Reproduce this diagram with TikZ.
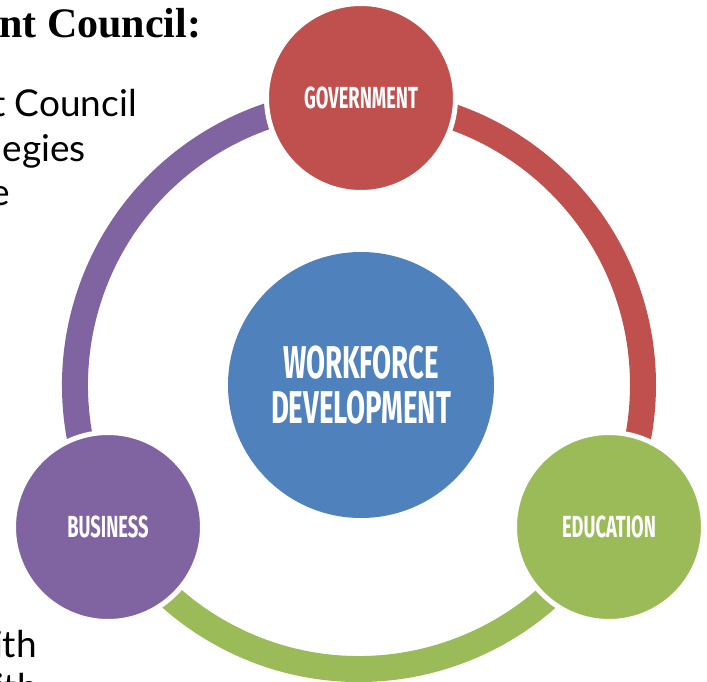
\documentclass[tikz,border=0pt]{standalone}
\usepackage{fontspec}
\setmainfont{Liberation Serif}
\newfontfamily\labelfont[FakeStretch=0.6]{Fira Sans}
\newfontfamily\bodyfont{Lato}
\definecolor{gred}{HTML}{C0504D}
\definecolor{gpurple}{HTML}{8064A2}
\definecolor{ggreen}{HTML}{9BBB59}
\definecolor{gblue}{HTML}{4F81BD}
\tikzset{
  ring/.style={line width=26pt},
  smallc/.style={circle, minimum size=189pt, inner sep=0pt, draw=white, line width=5pt,
    text=white, font=\labelfont\bfseries\fontsize{30.5}{30}\selectfont},
  bigc/.style={circle, minimum size=266pt, inner sep=0pt, fill=gblue, text=white,
    align=center, font=\labelfont\bfseries\fontsize{46}{45}\selectfont},
  body/.style={inner sep=0pt, font=\bodyfont\fontsize{37}{44}\selectfont},
  head/.style={inner sep=0pt, font=\bfseries\fontsize{42}{44}\selectfont}
}
\begin{document}
\begin{tikzpicture}[x=1pt, y=-1pt]
\useasboundingbox (0,0) rectangle (707,682);
\coordinate (rc) at (359,385);
% ring segments
\draw[ring, gpurple] (rc) ++(210:284pt) arc[start angle=210, end angle=90, radius=284pt];
\draw[ring, gred] (rc) ++(90:284pt) arc[start angle=90, end angle=-30, radius=284pt];
\draw[ring, ggreen] (rc) ++(-30:284pt) arc[start angle=-30, end angle=-150, radius=284pt];
% circles
\node[bigc] (wd) at (361,385) {WORKFORCE\\DEVELOPMENT};
\node[smallc, fill=gred] (gov) at (361,98) {GOVERNMENT};
\node[smallc, fill=gpurple] (bus) at (108,527) {BUSINESS};
\node[smallc, fill=ggreen] (edu) at (609,527) {EDUCATION};
% cropped slide text
\node[head, anchor=base west] (h1) at (-1,37.5) {nt Council:};
\node[body, anchor=base east] (t1) at (137,117) {t Council};
\node[body, anchor=base east] (t2) at (86,161.5) {egies};
\node[body, anchor=base east] (t3) at (10,205) {e};
\node[body, anchor=base east] (t4) at (37,657) {ith};
\node[body, anchor=base east] (t5) at (38,700) {ith};
\end{tikzpicture}
\end{document}
